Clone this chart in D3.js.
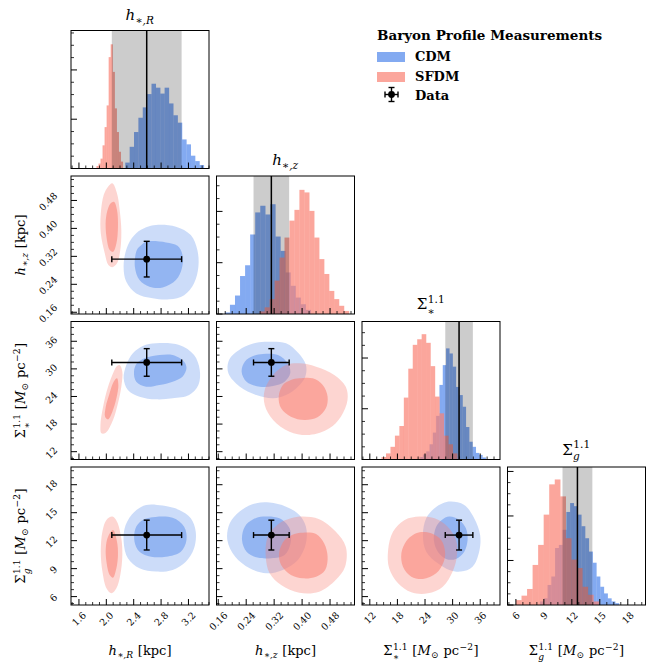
<!DOCTYPE html>
<html><head><meta charset="utf-8">
<script src="https://cdn.jsdelivr.net/npm/d3@7"></script>
<style>
body{margin:0;background:#fff}
text{font-family:"DejaVu Serif",serif;fill:#000}
</style></head>
<body><svg id="c" width="646" height="667"></svg>
<script>
// ---------------- DATA ----------------
const axisRanges = [[1.484,3.50],[0.155,0.55],[10.3,40.3],[5.1,19.9]];
const tickValues = [[1.6,2.0,2.4,2.8,3.2],[0.16,0.24,0.32,0.40,0.48],[12,18,24,30,36],[6,9,12,15,18]];
const tickLabels = [["1.6","2.0","2.4","2.8","3.2"],["0.16","0.24","0.32","0.40","0.48"],["12","18","24","30","36"],["6","9","12","15","18"]];
const minorSteps = [0.1,0.02,1.5,0.75];
const histYMax = [2.80,2.69,2.72,3.10];

const dataValues = [2.59,0.312,31.4,12.6];
const dataErrors = [0.51,0.051,3.0,1.6];

// histograms: [lo, hi] bin range + heights (even bins)
const cdmHistRange = [[2.277,3.426],[0.179,0.425],[22.82,37.21],[8.59,17.06]];
const sfdmHistRange = [[1.856,2.242],[0.2786,0.5344],[14.55,31.02],[6.01,14.92]];
const cdmHist_hR = [0.12,0.44,0.74,1.03,1.24,1.51,1.72,1.64,1.52,1.64,1.32,1.08,0.93,0.59,0.49,0.26,0.15,0.07];
const sfdmHist_hR = [0.05,0.10,0.20,0.47,0.84,1.28,2.26,2.52,1.96,1.22,0.74,0.34,0.14];
const cdmHist_hz = [0.03,0.18,0.36,0.74,0.95,1.55,1.98,2.11,1.94,2.14,1.51,1.23,0.81,0.55,0.32,0.19,0.08];
const sfdmHist_hz = [0.05,0.13,0.29,0.65,1.10,1.49,1.82,2.03,2.42,2.37,2.01,1.49,1.07,0.78,0.45,0.29,0.16,0.06];
const cdmHist_Ss = [0.05,0.10,0.16,0.30,0.53,0.86,1.47,1.86,2.19,2.09,1.83,1.43,1.27,1.04,0.64,0.35,0.25,0.13,0.09,0.04];
const sfdmHist_Ss = [0.05,0.12,0.25,0.47,0.66,1.22,1.79,2.26,2.37,2.47,2.30,1.84,1.24,0.91,0.47,0.30,0.12];
const cdmHist_Sg = [0.08,0.15,0.45,0.64,1.28,1.35,1.69,2.09,2.29,2.22,2.03,1.77,1.50,1.20,0.95,0.64,0.41,0.26,0.15,0.08,0.04];
const sfdmHist_Sg = [0.11,0.21,0.36,0.90,1.35,2.03,2.71,2.82,2.44,1.50,1.02,0.83,0.41,0.23,0.08];

// 2D credible-region outlines (data units)
const cdm_hR_hz_outer = [[2.727,0.410],[3.017,0.405],[3.234,0.381],[3.330,0.338],[3.345,0.290],[3.282,0.243],[3.137,0.209],[2.920,0.197],[2.678,0.200],[2.437,0.214],[2.292,0.247],[2.253,0.295],[2.315,0.352],[2.437,0.386],[2.582,0.403]];
const cdm_hR_hz_inner = [[2.582,0.362],[2.872,0.360],[3.040,0.350],[3.113,0.324],[3.104,0.286],[3.017,0.252],[2.823,0.231],[2.630,0.233],[2.485,0.252],[2.417,0.290],[2.446,0.338],[2.509,0.352]];
const sfdm_hR_hz_outer = [[2.088,0.529],[2.156,0.500],[2.195,0.453],[2.219,0.395],[2.204,0.338],[2.156,0.300],[2.088,0.289],[2.030,0.295],[1.977,0.329],[1.919,0.386],[1.919,0.443],[1.963,0.496],[2.025,0.519]];
const sfdm_hR_hz_inner = [[2.112,0.476],[2.156,0.453],[2.170,0.405],[2.147,0.357],[2.098,0.333],[2.050,0.338],[2.002,0.376],[1.992,0.424],[2.025,0.457],[2.064,0.472]];

const cdm_hR_Ss_outer = [[2.727,35.56],[3.065,35.19],[3.282,33.02],[3.365,29.76],[3.345,26.5],[3.210,24.32],[2.969,23.6],[2.727,23.38],[2.485,23.96],[2.315,25.4],[2.253,27.94],[2.292,30.84],[2.388,33.38],[2.533,34.97]];
const cdm_hR_Ss_inner = [[2.678,32.8],[2.969,33.02],[3.137,31.57],[3.171,30.12],[3.113,28.3],[2.969,27.22],[2.775,26.5],[2.582,26.13],[2.437,27.22],[2.404,29.4],[2.446,31.2],[2.557,32.3]];
const sfdm_hR_Ss_outer = [[2.195,30.84],[2.234,29.4],[2.219,26.13],[2.170,22.51],[2.098,18.89],[1.992,16.13],[1.929,15.99],[1.914,17.8],[1.953,21.79],[2.025,26.13],[2.108,29.4],[2.156,30.63]];
const sfdm_hR_Ss_inner = [[2.156,27.94],[2.176,26.5],[2.147,23.6],[2.088,20.7],[2.025,19.03],[1.982,19.61],[1.992,21.79],[2.040,24.32],[2.108,27.22]];

const cdm_hR_Sg_outer = [[2.582,15.83],[2.823,15.76],[3.065,15.29],[3.234,14.40],[3.306,12.97],[3.282,11.18],[3.161,9.75],[2.969,8.86],[2.727,8.68],[2.485,9.03],[2.315,10.11],[2.253,11.89],[2.282,13.68],[2.412,15.11]];
const cdm_hR_Sg_inner = [[2.630,14.47],[2.969,14.47],[3.137,13.50],[3.171,12.07],[3.089,10.82],[2.872,10.28],[2.654,10.28],[2.485,10.82],[2.412,11.89],[2.427,13.33],[2.509,14.11]];
const sfdm_hR_Sg_outer = [[2.088,14.58],[2.156,14.04],[2.219,12.25],[2.234,10.46],[2.204,8.32],[2.147,6.89],[2.074,6.35],[2.002,6.89],[1.943,8.68],[1.919,10.82],[1.943,12.97],[2.002,14.22]];
const sfdm_hR_Sg_inner = [[2.098,13.15],[2.156,11.89],[2.170,10.46],[2.147,9.03],[2.098,8.03],[2.050,8.32],[2.002,9.75],[1.992,11.18],[2.025,12.43]];

const cdm_hz_Ss_outer = [[0.307,35.92],[0.354,35.56],[0.390,33.38],[0.411,30.84],[0.409,28.3],[0.388,26.13],[0.354,24.32],[0.317,23.6],[0.269,24.32],[0.222,26.13],[0.189,29.03],[0.191,31.93],[0.227,34.47],[0.269,35.7]];
const cdm_hz_Ss_inner = [[0.288,33.23],[0.331,33.02],[0.359,31.2],[0.366,29.03],[0.350,27.22],[0.317,26.28],[0.279,26.13],[0.241,27.22],[0.227,29.4],[0.236,31.57],[0.260,32.8]];
const sfdm_hz_Ss_outer = [[0.392,31.2],[0.440,30.48],[0.492,28.67],[0.525,26.13],[0.530,23.23],[0.511,19.61],[0.478,17.08],[0.421,15.63],[0.364,16.35],[0.317,18.89],[0.293,22.15],[0.293,25.4],[0.321,29.03],[0.354,30.84]];
const sfdm_hz_Ss_inner = [[0.392,27.94],[0.430,27.94],[0.459,26.5],[0.473,23.96],[0.468,21.42],[0.444,19.47],[0.407,18.89],[0.368,19.61],[0.340,21.42],[0.333,23.96],[0.345,26.5],[0.368,27.58]];

const cdm_hz_Sg_outer = [[0.307,16.08],[0.354,15.65],[0.392,14.76],[0.411,13.50],[0.411,11.72],[0.388,9.93],[0.345,8.86],[0.298,8.50],[0.250,9.03],[0.208,10.29],[0.186,12.07],[0.193,13.86],[0.227,15.29],[0.269,16.01]];
const cdm_hz_Sg_inner = [[0.288,14.58],[0.335,14.40],[0.364,13.33],[0.367,11.72],[0.350,10.46],[0.312,10.11],[0.269,10.21],[0.241,10.82],[0.228,12.07],[0.236,13.50],[0.260,14.29]];
const sfdm_hz_Sg_outer = [[0.402,14.58],[0.449,14.29],[0.496,12.97],[0.525,11.36],[0.523,9.21],[0.496,7.78],[0.449,6.53],[0.392,6.42],[0.340,7.25],[0.307,8.50],[0.296,10.29],[0.302,12.43],[0.335,13.86],[0.368,14.40]];
const sfdm_hz_Sg_inner = [[0.402,12.86],[0.440,12.72],[0.463,11.72],[0.473,10.29],[0.466,8.86],[0.440,8.14],[0.402,7.96],[0.368,8.32],[0.340,9.39],[0.334,10.64],[0.350,12.07],[0.378,12.72]];

const cdm_Ss_Sg_outer = [[29.65,16.19],[32.53,15.83],[34.69,14.40],[35.98,12.61],[35.77,10.82],[34.33,9.21],[31.81,8.68],[29.29,8.86],[26.78,9.57],[24.26,10.82],[23.54,12.61],[24.26,14.40],[26.06,15.47],[27.86,16.01]];
const cdm_Ss_Sg_inner = [[29.29,14.58],[31.45,14.22],[32.89,13.33],[33.25,12.07],[32.53,10.82],[30.73,10.04],[28.58,10.04],[26.78,10.82],[25.91,12.07],[26.42,13.50],[27.64,14.22]];
const sfdm_Ss_Sg_outer = [[22.82,14.58],[26.06,14.40],[28.93,13.50],[30.73,12.07],[30.95,10.46],[30.01,8.68],[27.86,7.07],[24.62,6.35],[21.02,6.46],[18.14,7.43],[16.20,9.03],[15.98,11.00],[17.06,12.97],[19.58,14.22]];
const sfdm_Ss_Sg_inner = [[22.82,12.90],[25.34,12.79],[27.50,12.07],[28.36,10.82],[28.07,9.75],[26.42,8.50],[23.54,7.89],[21.02,8.14],[19.22,9.21],[18.86,10.64],[19.94,11.97],[21.38,12.61]];

const legendTitle = "Baryon Profile Measurements";
const legendNames = ["CDM","SFDM","Data"];

// ---------------- LAYOUT ----------------
const cdmColor = "#6495ED", sfdmColor = "#FA8072";
const colX = [71,216.5,362,507.5], rowY = [30.5,176,321.5,467], S = 138;
const histData = [[cdmHist_hR,sfdmHist_hR],[cdmHist_hz,sfdmHist_hz],[cdmHist_Ss,sfdmHist_Ss],[cdmHist_Sg,sfdmHist_Sg]];
const contourTable = {
  "1-0":[cdm_hR_hz_outer,cdm_hR_hz_inner,sfdm_hR_hz_outer,sfdm_hR_hz_inner],
  "2-0":[cdm_hR_Ss_outer,cdm_hR_Ss_inner,sfdm_hR_Ss_outer,sfdm_hR_Ss_inner],
  "3-0":[cdm_hR_Sg_outer,cdm_hR_Sg_inner,sfdm_hR_Sg_outer,sfdm_hR_Sg_inner],
  "2-1":[cdm_hz_Ss_outer,cdm_hz_Ss_inner,sfdm_hz_Ss_outer,sfdm_hz_Ss_inner],
  "3-1":[cdm_hz_Sg_outer,cdm_hz_Sg_inner,sfdm_hz_Sg_outer,sfdm_hz_Sg_inner],
  "3-2":[cdm_Ss_Sg_outer,cdm_Ss_Sg_inner,sfdm_Ss_Sg_outer,sfdm_Ss_Sg_inner]
};
const labelParts = [
  [{t:"h",i:1},{sub:"∗,R",subI:1}],
  [{t:"h",i:1},{sub:"∗,z",subI:1}],
  [{t:"Σ"},{sup:"1.1",sub:"∗"}],
  [{t:"Σ"},{sup:"1.1",sub:"g",subI:1}]
];
const unitKpc = [{t:"\u00A0[kpc]"}];
const unitSurf = [{t:"\u00A0["},{t:"M",i:1},{sub:"⊙"},{t:"\u00A0pc"},{sup:"−2"},{t:"]"}];
const unitParts = [unitKpc,unitKpc,unitSurf,unitSurf];

const svg = d3.select("#c");
const xs = axisRanges.map((d,i)=>d3.scaleLinear().domain(d).range([colX[i],colX[i]+S]));
const ys = axisRanges.map((d,i)=>d3.scaleLinear().domain(d).range([rowY[i]+S,rowY[i]]));
const defs = svg.append("defs");

function mathText(parent, parts, fs){
  const g = parent.append("g");
  let x = 0; const sfs = fs*0.7;
  for(const p of parts){
    if(p.t!==undefined){
      const t = g.append("text").attr("x",x).attr("y",0).attr("font-size",fs).style("font-style",p.i?"italic":"normal").text(p.t);
      x += t.node().getComputedTextLength();
    } else {
      let w = 0;
      const both = p.sup!==undefined && p.sub!==undefined;
      if(p.sup!==undefined){
        const t = g.append("text").attr("x",x+fs*0.04).attr("y",-fs*0.42).attr("font-size",sfs).style("font-style",p.supI?"italic":"normal").text(p.sup);
        w = Math.max(w,t.node().getComputedTextLength()+fs*0.04);
      }
      if(p.sub!==undefined){
        const t = g.append("text").attr("x",x+fs*0.02).attr("y",fs*(both?0.36:0.24)).attr("font-size",sfs).style("font-style",p.subI?"italic":"normal").text(p.sub);
        w = Math.max(w,t.node().getComputedTextLength()+fs*0.02);
      }
      x += w + fs*0.05;
    }
  }
  return {g:g,w:x};
}

function minorVals(dom, step, majors){
  const out=[]; const k0=Math.ceil(dom[0]/step-1e-9), k1=Math.floor(dom[1]/step+1e-9);
  for(let k=k0;k<=k1;k++){const v=k*step; if(!majors.some(m=>Math.abs(m-v)<step*0.01)) out.push(v);}
  return out;
}

function bottomTicks(g, sc, majors, minors, yb){
  majors.forEach(v=>g.append("line").attr("x1",sc(v)).attr("x2",sc(v)).attr("y1",yb).attr("y2",yb-6).attr("stroke","#000").attr("stroke-width",1));
  minors.forEach(v=>g.append("line").attr("x1",sc(v)).attr("x2",sc(v)).attr("y1",yb).attr("y2",yb-3).attr("stroke","#000").attr("stroke-width",0.8));
}
function leftTicks(g, sc, majors, minors, xl){
  majors.forEach(v=>g.append("line").attr("y1",sc(v)).attr("y2",sc(v)).attr("x1",xl).attr("x2",xl+6).attr("stroke","#000").attr("stroke-width",1));
  minors.forEach(v=>g.append("line").attr("y1",sc(v)).attr("y2",sc(v)).attr("x1",xl).attr("x2",xl+3).attr("stroke","#000").attr("stroke-width",0.8));
}

const TFS = 9.5;
function xTickLabels(g, j, yb){
  tickValues[j].forEach((v,k)=>{
    const t = g.append("text").attr("font-size",TFS).attr("text-anchor","middle").attr("dominant-baseline","central").text(tickLabels[j][k]);
    const w = t.node().getComputedTextLength(); const half=(w+TFS*0.73)*0.7071/2;
    t.attr("transform",`translate(${xs[j](v)},${yb+6+half}) rotate(-45)`);
  });
}
function yTickLabels(g, i, xl){
  tickValues[i].forEach((v,k)=>{
    const t = g.append("text").attr("font-size",TFS).attr("text-anchor","middle").attr("dominant-baseline","central").text(tickLabels[i][k]);
    const w = t.node().getComputedTextLength(); const half=(w+TFS*0.73)*0.7071/2;
    t.attr("transform",`translate(${xl-13-half},${ys[i](v)+1}) rotate(-45)`);
  });
}

const lineGen = (sx,sy)=>d3.line().x(d=>sx(d[0])).y(d=>sy(d[1])).curve(d3.curveCatmullRomClosed.alpha(0.5));

function errorbar(g, cx, cy, x1, x2, y1, y2){
  const st = {stroke:"#000","stroke-width":1.4};
  const L=(a,b,c,d)=>{const l=g.append("line").attr("x1",a).attr("y1",b).attr("x2",c).attr("y2",d); for(const k in st) l.attr(k,st[k]);};
  L(x1,cy,x2,cy); L(cx,y1,cx,y2);
  L(x1,cy-3,x1,cy+3); L(x2,cy-3,x2,cy+3);
  L(cx-3,y1,cx+3,y1); L(cx-3,y2,cx+3,y2);
  g.append("circle").attr("cx",cx).attr("cy",cy).attr("r",3.4).attr("fill","#000");
}

for(let i=0;i<4;i++){
  for(let j=0;j<=i;j++){
    const g = svg.append("g");
    const x0=colX[j], y0=rowY[i];
    const cid = `clip${i}${j}`;
    defs.append("clipPath").attr("id",cid).append("rect").attr("x",x0).attr("y",y0).attr("width",S).attr("height",S);
    const inner = g.append("g").attr("clip-path",`url(#${cid})`);
    if(i===j){
      const hy = d3.scaleLinear().domain([0,histYMax[i]]).range([y0+S,y0]);
      [[histData[i][0],cdmHistRange[i],cdmColor,0.8],[histData[i][1],sfdmHistRange[i],sfdmColor,0.7]].forEach(([vals,rng,col,op])=>{
        const bw=(rng[1]-rng[0])/vals.length;
        inner.append("g").selectAll("rect").data(vals).join("rect")
          .attr("x",(d,k)=>xs[i](rng[0]+k*bw)).attr("width",(d,k)=>xs[i](rng[0]+(k+1)*bw)-xs[i](rng[0]+k*bw)+0.15)
          .attr("y",d=>hy(d)).attr("height",d=>hy(0)-hy(d)).attr("fill",col).attr("fill-opacity",op);
      });
      const lo=dataValues[i]-dataErrors[i], hi=dataValues[i]+dataErrors[i];
      inner.append("rect").attr("x",xs[i](lo)).attr("width",xs[i](hi)-xs[i](lo)).attr("y",y0).attr("height",S).attr("fill","#000").attr("fill-opacity",0.2);
      inner.append("line").attr("x1",xs[i](dataValues[i])).attr("x2",xs[i](dataValues[i])).attr("y1",y0).attr("y2",y0+S).attr("stroke","#000").attr("stroke-width",1.5);
      bottomTicks(g, xs[j], tickValues[j], minorVals(axisRanges[j],minorSteps[j],tickValues[j]), y0+S);
      const hmaj = d3.range(0,Math.floor(histYMax[i])+1);
      leftTicks(g, hy, hmaj, minorVals([0,histYMax[i]],0.25,hmaj), x0);
      // title
      const mt = mathText(svg, labelParts[i], 15);
      const bb = mt.g.node().getBBox();
      mt.g.attr("transform",`translate(${x0+S/2-mt.w/2},${y0-5-(bb.y+bb.height)})`);
    } else {
      const [co,ci,so,si] = contourTable[`${i}-${j}`];
      const lg = lineGen(xs[j],ys[i]);
      inner.append("path").attr("d",lg(co)).attr("fill",cdmColor).attr("fill-opacity",0.33);
      inner.append("path").attr("d",lg(ci)).attr("fill",cdmColor).attr("fill-opacity",0.55);
      inner.append("path").attr("d",lg(so)).attr("fill",sfdmColor).attr("fill-opacity",0.33);
      inner.append("path").attr("d",lg(si)).attr("fill",sfdmColor).attr("fill-opacity",0.55);
      const cx=xs[j](dataValues[j]), cy=ys[i](dataValues[i]);
      errorbar(g, cx, cy, xs[j](dataValues[j]-dataErrors[j]), xs[j](dataValues[j]+dataErrors[j]), ys[i](dataValues[i]+dataErrors[i]), ys[i](dataValues[i]-dataErrors[i]));
      bottomTicks(g, xs[j], tickValues[j], minorVals(axisRanges[j],minorSteps[j],tickValues[j]), y0+S);
      leftTicks(g, ys[i], tickValues[i], minorVals(axisRanges[i],minorSteps[i],tickValues[i]), x0);
      if(j===0) yTickLabels(g, i, x0);
    }
    if(i===3) xTickLabels(g, j, y0+S);
    g.append("rect").attr("x",x0).attr("y",y0).attr("width",S).attr("height",S).attr("fill","none").attr("stroke","#000").attr("stroke-width",1);
  }
}

// axis labels
for(let j=0;j<4;j++){
  const m = mathText(svg, labelParts[j].concat(unitParts[j]), 13);
  m.g.attr("transform",`translate(${colX[j]+S/2-m.w/2},655)`);
}
for(let i=1;i<4;i++){
  const m = mathText(svg, labelParts[i].concat(unitParts[i]), 13);
  m.g.attr("transform",`translate(25,${rowY[i]+S/2}) rotate(-90) translate(${-m.w/2},0)`);
}

// legend
const lgd = svg.append("g");
lgd.append("text").attr("x",377).attr("y",40).attr("font-size",13.5).attr("font-weight","bold").text(legendTitle);
lgd.append("rect").attr("x",377).attr("y",52).attr("width",28).attr("height",10).attr("fill",cdmColor).attr("fill-opacity",0.8);
lgd.append("rect").attr("x",377).attr("y",72).attr("width",28).attr("height",10).attr("fill",sfdmColor).attr("fill-opacity",0.7);
[61,81,100].forEach((y,k)=>lgd.append("text").attr("x",415).attr("y",y).attr("font-size",13).attr("font-weight","bold").text(legendNames[k]));
errorbar(lgd, 391.5, 94.5, 385, 398, 87.5, 101.5);
</script></body></html>
